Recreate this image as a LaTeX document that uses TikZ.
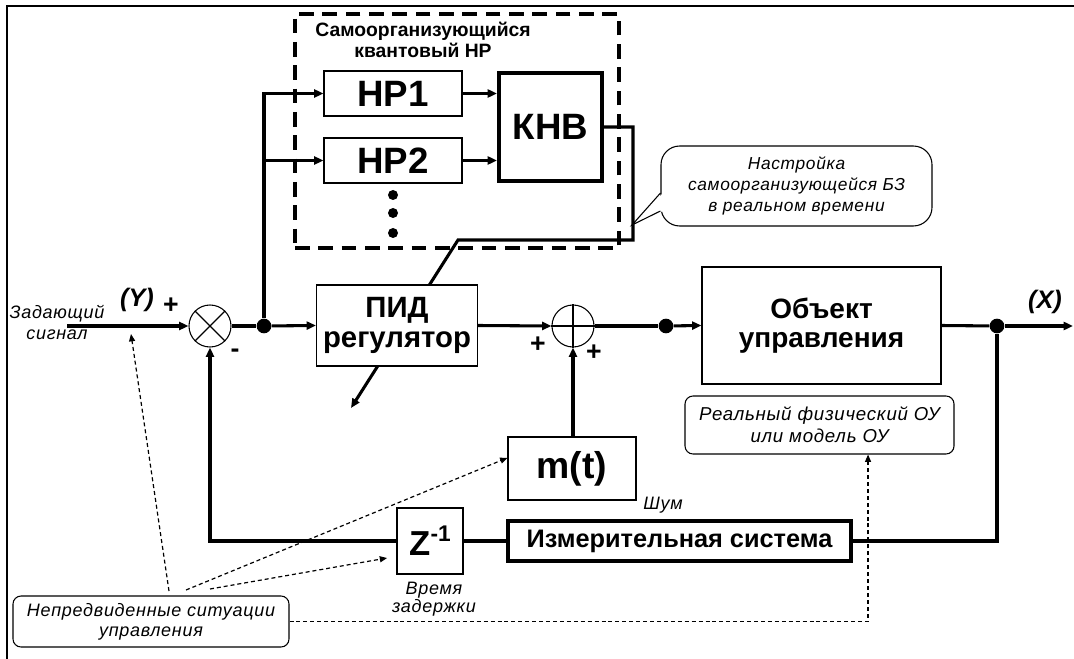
\documentclass[tikz,border=0pt]{standalone}
\usepackage{fontspec}
\setmainfont{Liberation Sans}
\newfontfamily\labfont[LetterSpace=4]{Liberation Sans}
\usetikzlibrary{arrows.meta,calc}
\tikzset{
  conn/.style={line width=2.3pt},
  arr/.style={-{Triangle[length=7pt,width=6pt]}},
  dsh/.style={line width=0.9pt, dash pattern=on 3pt off 2.2pt, -{Triangle[length=5.5pt,width=4.5pt]}},
  blk/.style={draw, line width=0.8pt, fill=white, inner sep=0pt, align=center},
  bigf/.style={font=\bfseries\fontsize{27.5}{28}\selectfont},
  sumnode/.style={circle, draw, line width=0.8pt, fill=white, minimum size=31.5pt, inner sep=0pt},
  jdot/.style={circle, fill=black, inner sep=0pt, minimum size=11pt},
  sdot/.style={circle, fill=black, inner sep=0pt, minimum size=7.5pt},
  lab/.style={font=\labfont\itshape\fontsize{13.5}{15.75}\selectfont, align=center, inner sep=0pt},
  sign/.style={font=\bfseries\fontsize{20}{20}\selectfont, inner sep=0pt},
  rbox/.style={draw, line width=0.8pt, rounded corners=6pt, fill=white, inner sep=0pt, align=center}
}
\begin{document}
\begin{tikzpicture}[x=0.75pt,y=-0.75pt]
\useasboundingbox (0,0) rectangle (1074,659);
\fill[white] (0,0) rectangle (1074,659);
% frame
\draw[line width=1.9pt] (7,659) -- (7,6) -- (1074,6);

% self-organizing quantum controller
\node[draw, line width=2.6pt, dash pattern=on 11pt off 6.5pt, minimum width=243pt, minimum height=175.5pt, inner sep=0pt] (nr) at (457,131) {};
\node[font=\bfseries\fontsize{14.5}{16}\selectfont, align=center, inner sep=0pt] (title) at (423,40) {Самоорганизующийся\\квантовый НР};
\node[blk, bigf, minimum width=103.5pt, minimum height=33.75pt] (hp1) at (393,93.5) {НР1};
\node[blk, bigf, minimum width=103.5pt, minimum height=33.75pt] (hp2) at (393,160.5) {НР2};
\node[blk, bigf, line width=3pt, minimum width=77.25pt, minimum height=81pt] (knb) at (550.5,127) {КНВ};
\node[sdot] (d1) at (393,195) {};
\node[sdot] (d2) at (393,213) {};
\node[sdot] (d3) at (393,233) {};
\draw[conn, arr] (hp1.east) -- (hp1.east -| knb.west);
\draw[conn, arr] (hp2.east) -- (hp2.east -| knb.west);

% tuning line through PID
\coordinate (k1) at (633,240);
\coordinate (k2) at (458,240);
\coordinate (adapt) at (351,408);
\draw[conn, arr] (knb.east) -| (k1) -- (k2) -- (adapt);

% callout
\node[rbox, rounded corners=14pt, minimum width=203.25pt, minimum height=60pt, font=\labfont\itshape\fontsize{13}{15.75}\selectfont] (cal) at (796.5,186) {Настройка\\самоорганизующейся БЗ\\в реальном времени};
\coordinate (tip) at (632,225);
\fill[white] ([xshift=2pt]cal.west |- 0,193) -- (tip) -- ([xshift=2pt]cal.west |- 0,211) -- cycle;
\draw[line width=0.8pt] (cal.west |- 0,193) -- (tip) -- (cal.west |- 0,211);

% main loop
\node[blk, font=\bfseries\fontsize{22}{22.5}\selectfont, minimum width=120.75pt, minimum height=60.75pt] (pid) at (397,325.5) {ПИД\\регулятор};
\node[sumnode] (sum1) at (210,326) {};
\draw[line width=0.8pt] (sum1.north west) -- (sum1.south east) (sum1.north east) -- (sum1.south west);
\node[sumnode] (sum2) at (573,326) {};
\draw[line width=0.8pt] (sum2.north) -- (sum2.south) (sum2.west) -- (sum2.east);
\node[jdot] (dot1) at (264,326) {};
\node[jdot] (dot2) at (666,326) {};
\node[jdot] (dot3) at (997,326) {};
\node[blk, font=\bfseries\fontsize{21}{22}\selectfont, minimum width=179.25pt, minimum height=87.75pt] (obj) at (821.5,325.5) {Объект\\управления};
\node[blk, font=\bfseries\fontsize{28}{28}\selectfont, minimum width=96pt, minimum height=47.25pt] (mt) at (572,468.5) {m(t)};
\node[blk, font=\bfseries\fontsize{26}{26}\selectfont, minimum width=49.5pt, minimum height=49.5pt] (z) at (430,541) {Z{\fontsize{17}{17}\selectfont\raisebox{0.62em}{-1}}};
\node[blk, line width=2.6pt, font=\bfseries\fontsize{19}{19}\selectfont, minimum width=257.25pt, minimum height=30pt] (meas) at (679.5,541) {Измерительная система};

\coordinate (in) at (67,326);
\coordinate (out) at (1073,326);
\draw[conn, arr] (in) -- (sum1.west);
\draw[conn] (sum1.east) -- (dot1);
\draw[conn, arr] (dot1) -- (pid.west);
\draw[conn, arr] (dot1) |- (hp1.west);
\draw[conn, arr] (dot1) |- (hp2.west);
\draw[conn, arr] (pid.east) -- (sum2.west);
\draw[conn] (sum2.east) -- (dot2);
\draw[conn, arr] (dot2) -- (obj.west);
\draw[conn] (obj.east) -- (dot3);
\draw[conn, arr] (dot3) -- (out);
\draw[conn] (dot3) |- (meas.east);
\draw[conn] (meas.west) -- (z.east);
\draw[conn, arr] (z.west) -| (sum1.south);
\draw[conn, arr] (sum2.south |- mt.north) -- (sum2.south);

% signs and labels
\node[lab] (zad) at (57,322.5) {Задающий\\сигнал};
\node[font=\bfseries\itshape\fontsize{19}{19}\selectfont, inner sep=0pt] (ylab) at (137,300) {(Y)};
\node[sign] (p1) at (171,306) {+};
\node[sign] (m1) at (235,353) {-};
\node[sign] (p2) at (538,345) {+};
\node[sign] (p3) at (594,353) {+};
\node[font=\bfseries\itshape\fontsize{19}{19}\selectfont, inner sep=0pt] (xlab) at (1045,302) {(X)};
\node[lab] (noise) at (663,505) {Шум};
\node[lab, font=\labfont\itshape\fontsize{13.5}{13.5}\selectfont] (delay) at (434,599) {Время\\задержки};

% annotation boxes
\node[rbox, minimum width=201.75pt, minimum height=43.5pt, font=\labfont\itshape\fontsize{14}{16.5}\selectfont] (real) at (819.5,425) {Реальный физический ОУ\\или модель ОУ};
\node[rbox, minimum width=207pt, minimum height=38.25pt, font=\labfont\itshape\fontsize{13.5}{15}\selectfont] (unf) at (151,621.5) {Непредвиденные ситуации\\управления};

\coordinate (u1) at (169,591);
\coordinate (u2) at (186,590);
\coordinate (u3) at (210,589);
\coordinate (yin) at (131,334);
\draw[dsh] (u1) -- (yin);
\draw[dsh] (u2) -- ([yshift=8pt]mt.west);
\draw[dsh] (u3) -- ([xshift=-7pt,yshift=-12.75pt]z.west);
\draw[dsh] (unf.east) -| ([xshift=36.4pt]real.south);
\end{tikzpicture}
\end{document}
